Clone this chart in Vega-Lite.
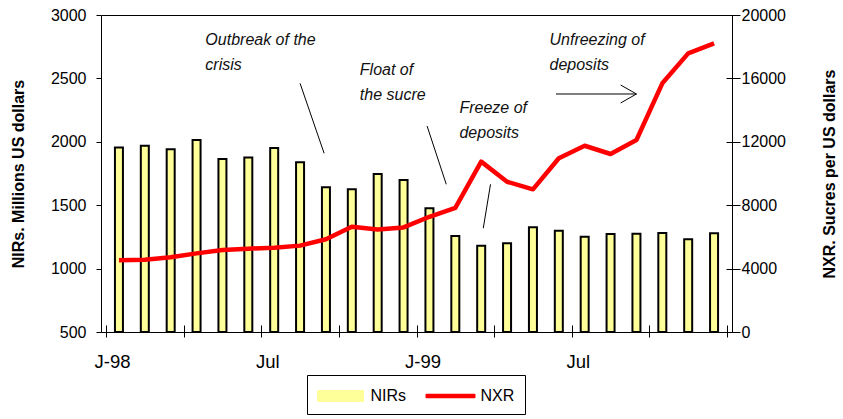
{
  "$schema": "https://vega.github.io/schema/vega-lite/v6.json",
  "width": 631,
  "height": 317,
  "autosize": {"type": "none"},
  "padding": {"left": 101, "top": 15, "right": 111, "bottom": 87},
  "background": "white",
  "config": {
    "font": "Liberation Sans",
    "view": {"stroke": "black", "strokeWidth": 1},
    "axis": {"labelColor": "black", "tickColor": "black", "domainColor": "black", "titleColor": "black", "grid": false, "labelFontSize": 16, "labelFont": "Liberation Sans", "titleFont": "Liberation Sans", "titleFontSize": 16, "titleFontWeight": "bold"}
  },
  "datasets": {
    "series": [
      {"month": "1998-01", "m": 1, "NIRs": 1956, "NXR": 4520},
      {"month": "1998-02", "m": 2, "NIRs": 1969, "NXR": 4560},
      {"month": "1998-03", "m": 3, "NIRs": 1941, "NXR": 4710},
      {"month": "1998-04", "m": 4, "NIRs": 2014, "NXR": 4960},
      {"month": "1998-05", "m": 5, "NIRs": 1864, "NXR": 5170},
      {"month": "1998-06", "m": 6, "NIRs": 1877, "NXR": 5260},
      {"month": "1998-07", "m": 7, "NIRs": 1951, "NXR": 5320},
      {"month": "1998-08", "m": 8, "NIRs": 1838, "NXR": 5450},
      {"month": "1998-09", "m": 9, "NIRs": 1641, "NXR": 5850},
      {"month": "1998-10", "m": 10, "NIRs": 1625, "NXR": 6640},
      {"month": "1998-11", "m": 11, "NIRs": 1746, "NXR": 6460},
      {"month": "1998-12", "m": 12, "NIRs": 1699, "NXR": 6600},
      {"month": "1999-01", "m": 13, "NIRs": 1475, "NXR": 7270},
      {"month": "1999-02", "m": 14, "NIRs": 1257, "NXR": 7830},
      {"month": "1999-03", "m": 15, "NIRs": 1181, "NXR": 10750},
      {"month": "1999-04", "m": 16, "NIRs": 1199, "NXR": 9480},
      {"month": "1999-05", "m": 17, "NIRs": 1326, "NXR": 9000},
      {"month": "1999-06", "m": 18, "NIRs": 1299, "NXR": 10960},
      {"month": "1999-07", "m": 19, "NIRs": 1252, "NXR": 11750},
      {"month": "1999-08", "m": 20, "NIRs": 1273, "NXR": 11230},
      {"month": "1999-09", "m": 21, "NIRs": 1275, "NXR": 12110},
      {"month": "1999-10", "m": 22, "NIRs": 1281, "NXR": 15690},
      {"month": "1999-11", "m": 23, "NIRs": 1231, "NXR": 17580},
      {"month": "1999-12", "m": 24, "NIRs": 1278, "NXR": 18210}
    ],
    "notes": [
      {"m": 4.34, "v": 2763, "text": "Outbreak of the\ncrisis"},
      {"m": 10.31, "v": 2527, "text": "Float of\nthe sucre"},
      {"m": 14.16, "v": 2225, "text": "Freeze of\ndeposits"},
      {"m": 17.64, "v": 2763, "text": "Unfreezing of\ndeposits"}
    ],
    "arrows": [
      {"m": 8.0, "v": 2461, "m2": 8.93, "v2": 1909},
      {"m": 12.91, "v": 2124, "m2": 13.65, "v2": 1665},
      {"m": 15.36, "v": 1665, "m2": 15.08, "v2": 1318},
      {"m": 17.89, "v": 2377, "m2": 21.0, "v2": 2377},
      {"m": 20.39, "v": 2448, "m2": 21.0, "v2": 2377},
      {"m": 20.39, "v": 2306, "m2": 21.0, "v2": 2377}
    ]
  },
  "layer": [
    {
      "data": {"name": "series"},
      "mark": {"type": "bar", "size": 8, "stroke": "black", "strokeWidth": 2},
      "encoding": {
        "x": {
          "field": "m", "type": "quantitative",
          "scale": {"domain": [0.5, 24.5], "nice": false, "zero": false},
          "axis": {
            "values": [0.5, 3.5, 6.5, 9.5, 12.5, 15.5, 18.5, 21.5, 24.5],
            "labelExpr": "datum.value == 0.5 ? 'J-98' : datum.value == 6.5 ? 'Jul' : datum.value == 12.5 ? 'J-99' : datum.value == 18.5 ? 'Jul' : ''",
            "labelOffset": 6, "domain": false, "offset": -7, "tickSize": 12, "labelPadding": 15, "labelFontSize": 18.5,
            "labelFlush": false, "labelOverlap": false, "labelBound": false, "title": null
          }
        },
        "y": {
          "field": "NIRs", "type": "quantitative",
          "scale": {"domain": [500, 3000], "nice": false, "zero": false},
          "axis": {"orient": "left", "values": [500, 1000, 1500, 2000, 2500, 3000], "format": "d", "tickSize": 5, "labelPadding": 10, "domain": false, "title": "NIRs. Millions US dollars", "titlePadding": 24}
        },
        "y2": {"datum": 500},
        "color": {"datum": "NIRs", "type": "nominal",
          "scale": {"domain": ["NIRs", "NXR"], "range": ["#FFFF99", "#FF0000"]},
          "legend": {
            "title": null, "orient": "none", "legendX": 206, "legendY": 360, "direction": "horizontal",
            "strokeColor": "black", "padding": 10,
            "labelFontSize": 16, "labelFont": "Liberation Sans", "labelColor": "black",
            "symbolSize": 400, "symbolOffset": 12.5, "labelOffset": 19, "columnPadding": 18,
            "encoding": {"symbols": {
              "shape": {"value": {"expr": "datum.value === 'NIRs' ? 'M-2.25,-0.5H2.25V0.5H-2.25Z' : 'M-2.4,-0.12H2.4V0.12H-2.4Z'"}},
              "fill": {"value": {"expr": "datum.value === 'NIRs' ? '#FFFF99' : '#FF0000'"}},
              "stroke": {"value": {"expr": "datum.value === 'NIRs' ? 'black' : '#FF0000'"}},
              "strokeWidth": {"value": 2},
              "strokeOpacity": {"value": 1},
              "strokeJoin": {"value": "round"},
              "opacity": {"value": 1}
            }}
          }
        }
      }
    },
    {
      "data": {"name": "series"},
      "mark": {"type": "line", "strokeWidth": 4.5, "strokeJoin": "round"},
      "encoding": {
        "x": {"field": "m", "type": "quantitative"},
        "y": {
          "field": "NXR", "type": "quantitative",
          "scale": {"domain": [0, 20000], "nice": false},
          "axis": {"orient": "right", "values": [0, 4000, 8000, 12000, 16000, 20000], "format": "d", "offset": -6, "tickSize": 14, "labelPadding": 1, "domain": false, "title": "NXR. Sucres per US dollars", "titleAngle": 270, "titlePadding": 52}
        },
        "color": {"datum": "NXR", "type": "nominal",
          "legend": {
            "title": null, "orient": "none", "legendX": 206, "legendY": 360, "direction": "horizontal",
            "strokeColor": "black", "padding": 10,
            "labelFontSize": 16, "labelFont": "Liberation Sans", "labelColor": "black",
            "symbolSize": 400, "symbolOffset": 12.5, "labelOffset": 19, "columnPadding": 18,
            "encoding": {"symbols": {
              "shape": {"value": {"expr": "datum.value === 'NIRs' ? 'M-2.25,-0.5H2.25V0.5H-2.25Z' : 'M-2.4,-0.12H2.4V0.12H-2.4Z'"}},
              "fill": {"value": {"expr": "datum.value === 'NIRs' ? '#FFFF99' : '#FF0000'"}},
              "stroke": {"value": {"expr": "datum.value === 'NIRs' ? 'black' : '#FF0000'"}},
              "strokeWidth": {"value": 2},
              "strokeOpacity": {"value": 1},
              "strokeJoin": {"value": "round"},
              "opacity": {"value": 1}
            }}
          }
        }
      }
    },
    {
      "data": {"name": "notes"},
      "mark": {"type": "text", "font": "Liberation Sans", "fontSize": 16, "fontStyle": "italic", "align": "left", "baseline": "alphabetic", "lineBreak": "\n", "lineHeight": 25, "color": "#111111"},
      "encoding": {
        "x": {"field": "m", "type": "quantitative"},
        "y": {"field": "v", "type": "quantitative", "scale": {"domain": [500, 3000], "nice": false, "zero": false}, "axis": null},
        "text": {"field": "text"}
      }
    },
    {
      "data": {"name": "arrows"},
      "mark": {"type": "rule", "color": "black", "strokeWidth": 1},
      "encoding": {
        "x": {"field": "m", "type": "quantitative"},
        "x2": {"field": "m2"},
        "y": {"field": "v", "type": "quantitative", "scale": {"domain": [500, 3000], "nice": false, "zero": false}, "axis": null},
        "y2": {"field": "v2"}
      }
    }
  ],
  "resolve": {"scale": {"y": "independent"}}
}
